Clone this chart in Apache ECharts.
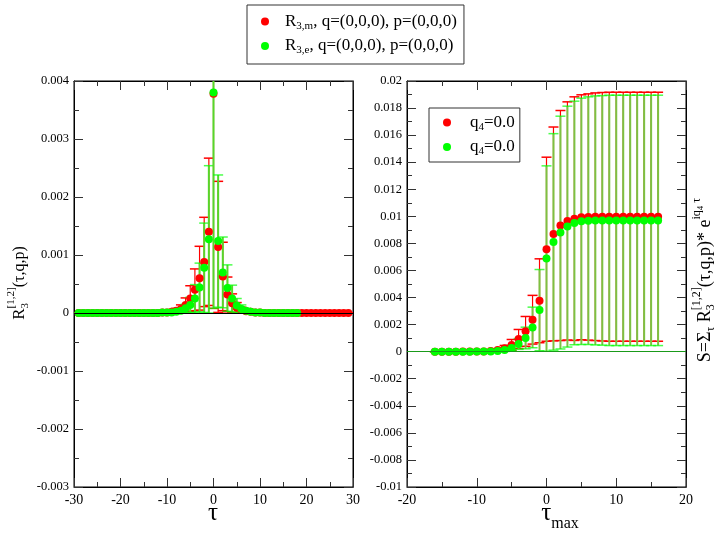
<!DOCTYPE html>
<html>
<head>
<meta charset="UTF-8">
<title>R3 correlator</title>
<script type="text/javascript" src="https://cdn.jsdelivr.net/npm/echarts@6/dist/echarts.min.js"></script>
<style>
  html, body { margin: 0; padding: 0; background: #fff; }
  #main { width: 717px; height: 535px; }
</style>
</head>
<body>
<div id="main"></div>
<script type="text/javascript">
// ---- data: left panel, R3(tau) ----
var tauLeftRed = [-29,-28,-27,-26,-25,-24,-23,-22,-21,-20,-19,-18,-17,-16,-15,-14,-13,-12,
  -11,-10,-9,-8,-7,-6,-5,-4,-3,-2,-1,0,1,2,3,4,5,6,7,8,9,10,
  11,12,13,14,15,16,17,18,19,20,21,22,23,24,25,26,27,28,29];
var redLeftVal = [0,0,0,0,0,0,0,0,0,0,0,0,0,0,0,0,0,0,
  0.00001,0.00001,0.00002,0.00004,0.00007,0.00014,0.00025,0.00040,0.00060,0.00088,0.00140,
  0.00378,0.00114,0.00063,0.00032,0.00017,0.00009,0.00005,0.00003,0.00002,0.00001,0.00001,
  0,0,0,0,0,0,0,0,0,0,0,0,0,0,0,0,0,0,0];
var redLeftErr = [0,0,0,0,0,0,0,0,0,0,0,0,0,0,0,0,0,0,
  0.00001,0.00001,0.00002,0.00004,0.00007,0.00012,0.00022,0.00036,0.00055,0.00077,0.00127,
  0.00370,0.00113,0.00059,0.00030,0.00016,0.00009,0.00005,0.00003,0.00002,0.00001,0.00001,
  0,0,0,0,0,0,0,0,0,0,0,0,0,0,0,0,0,0,0];

var tauLeftGreen = [-29,-28,-27,-26,-25,-24,-23,-22,-21,-20,-19,-18,-17,-16,-15,-14,-13,-12,
  -11,-10,-9,-8,-7,-6,-5,-4,-3,-2,-1,0,1,2,3,4,5,6,7,8,9,10,
  11,12,13,14,15,16,17,18];
var greenLeftVal = [0,0,0,0,0,0,0,0,0,0,0,0,0,0,0,0,0,0,
  0.00001,0.00001,0.00001,0.00002,0.00004,0.00008,0.00014,0.00025,0.00044,0.00078,0.00127,
  0.00380,0.00124,0.00070,0.00043,0.00025,0.00013,0.00007,0.00004,0.00002,0.00001,0.00001,
  0,0,0,0,0,0,0,0];
var greenLeftErr = [0,0,0,0,0,0,0,0,0,0,0,0,0,0,0,0,0,0,
  0.00001,0.00001,0.00001,0.00002,0.00004,0.00007,0.00013,0.00024,0.00042,0.00077,0.00127,
  0.00372,0.00114,0.00061,0.00040,0.00023,0.00012,0.00007,0.00004,0.00002,0.00001,0.00001,
  0,0,0,0,0,0,0,0];

// ---- data: right panel, S(tau_max) ----
var tauRight = [-16,-15,-14,-13,-12,-11,-10,-9,-8,-7,-6,-5,-4,-3,-2,-1,0,
  1,2,3,4,5,6,7,8,9,10,11,12,13,14,15,16];
var redRightVal = [0,0,0,0,0.00001,0.00001,0.00001,0.00002,0.00005,0.00012,0.00026,0.00050,
  0.00094,0.00150,0.00236,0.00376,0.00757,0.00870,0.00932,0.00966,0.00983,0.00993,0.00995,
  0.00997,0.00997,0.00997,0.00997,0.00997,0.00997,0.00997,0.00997,0.00997,0.00997];
var redRightErr = [0,0,0,0,0.00001,0.00001,0.00001,0.00002,0.00004,0.00010,0.00020,0.00040,
  0.00070,0.00110,0.00180,0.00310,0.00680,0.00790,0.00850,0.00880,0.00900,0.00905,0.00910,
  0.00915,0.00918,0.00920,0.00920,0.00920,0.00920,0.00920,0.00920,0.00920,0.00920];
var greenRightVal = [0,0,0,0,0,0,0.00001,0.00001,0.00002,0.00005,0.00012,0.00028,
  0.00057,0.00101,0.00179,0.00307,0.00688,0.00811,0.00880,0.00924,0.00951,0.00963,0.00968,
  0.00970,0.00970,0.00970,0.00970,0.00970,0.00970,0.00970,0.00970,0.00970,0.00970];
var greenRightErr = [0,0,0,0,0,0,0.00001,0.00001,0.00002,0.00005,0.00010,0.00020,
  0.00040,0.00080,0.00150,0.00300,0.00685,0.00800,0.00860,0.00890,0.00900,0.00910,0.00915,
  0.00920,0.00922,0.00925,0.00925,0.00925,0.00925,0.00925,0.00925,0.00925,0.00925];

var FONT = '"Liberation Serif", "DejaVu Serif", serif';
var RED = '#ff0000', GREEN = '#00ff00';

function zip(xs, vs, es) {
  var out = [];
  for (var i = 0; i < xs.length; i++) out.push(es ? [xs[i], vs[i], es[i]] : [xs[i], vs[i]]);
  return out;
}

// error bars: vertical line plus caps
function errBars(lineColor, lineW, capColor, opacity) {
  return function (params, api) {
    var x = api.value(0), v = api.value(1), e = api.value(2);
    var t = api.coord([x, v + e]), b = api.coord([x, v - e]);
    var hw = 5;
    var sl = { stroke: lineColor, lineWidth: lineW };
    var sc = { stroke: capColor, lineWidth: 1.5, opacity: opacity };
    return { type: 'group', children: [
      { type: 'line', shape: { x1: t[0], y1: t[1], x2: b[0], y2: b[1] }, style: sl },
      { type: 'line', shape: { x1: t[0] - hw, y1: t[1], x2: t[0] + hw, y2: t[1] }, style: sc },
      { type: 'line', shape: { x1: b[0] - hw, y1: b[1], x2: b[0] + hw, y2: b[1] }, style: sc }
    ]};
  };
}

function numFmt(v) { return String(parseFloat(v.toFixed(4))); }

function xAx(grid, min, max, bottom) {
  return {
    type: 'value', gridIndex: grid, min: min, max: max, interval: 10,
    position: bottom ? 'bottom' : 'top',
    axisLine: { onZero: false, lineStyle: { color: '#000', width: 1 } },
    axisTick: { inside: true, length: 9, lineStyle: { color: '#333' } },
    minorTick: { show: true, splitNumber: 2, length: 5, lineStyle: { color: '#333' } },
    axisLabel: { show: bottom, color: '#000', fontFamily: FONT, fontSize: 14, margin: 6 },
    splitLine: { show: false }
  };
}
function yAx(grid, min, max, itv, left) {
  return {
    type: 'value', gridIndex: grid, min: min, max: max, interval: itv,
    position: left ? 'left' : 'right',
    axisLine: { onZero: false, lineStyle: { color: '#000', width: 1 } },
    axisTick: { inside: true, length: 9, lineStyle: { color: '#333' } },
    minorTick: { show: true, splitNumber: 2, length: 5, lineStyle: { color: '#333' } },
    axisLabel: { show: left, color: '#000', fontFamily: FONT, fontSize: 12.5, margin: 5, formatter: numFmt },
    splitLine: { show: false }
  };
}

// text with sub/superscripts, built from pieces measured on a canvas
var mctx = document.createElement('canvas').getContext('2d');
function tw(s, size) { mctx.font = size + 'px ' + FONT; return mctx.measureText(s).width; }
function richLabel(pieces, gx, gy, rot) {
  var total = 0, cur = 0, stackW = 0, placed = [];
  pieces.forEach(function (p) {
    var w = tw(p.t, p.s);
    placed.push({ p: p, x: cur });
    if (p.stack) { stackW = Math.max(stackW, w); }
    else { cur += Math.max(w, stackW); stackW = 0; }
  });
  total = cur + stackW;
  var kids = placed.map(function (o) {
    return { type: 'text', x: o.x - total / 2, y: o.p.dy - 0.34 * o.p.s,
      style: { text: o.p.t, fill: '#000', font: o.p.s + 'px ' + FONT, verticalAlign: 'middle', align: 'left' } };
  });
  return { type: 'group', x: gx, y: gy, rotation: rot, children: kids };
}

var chart = echarts.init(document.getElementById('main'), null, { renderer: 'canvas' });

var legRich = {
  p: { width: 11 },
  a: { fontSize: 17, fontFamily: FONT, color: '#000', lineHeight: 20 },
  b: { fontSize: 11, fontFamily: FONT, color: '#000', lineHeight: 7, verticalAlign: 'bottom' }
};

var zeroLine = function (color) {
  return { silent: true, symbol: 'none', label: { show: false },
    lineStyle: { color: color, width: 1, type: 'solid' }, data: [{ yAxis: 0 }] };
};

var option = {
  backgroundColor: '#fff',
  animation: false,
  grid: [
    { left: 74, right: 364, top: 81, bottom: 48, show: true, borderColor: '#000', borderWidth: 1 },
    { left: 407, right: 31, top: 81, bottom: 48, show: true, borderColor: '#000', borderWidth: 1 }
  ],
  xAxis: [xAx(0, -30, 30, true), xAx(0, -30, 30, false), xAx(1, -20, 20, true), xAx(1, -20, 20, false)],
  yAxis: [yAx(0, -0.003, 0.004, 0.001, true), yAx(0, -0.003, 0.004, 0.001, false),
          yAx(1, -0.01, 0.02, 0.002, true), yAx(1, -0.01, 0.02, 0.002, false)],
  legend: [
    {
      orient: 'vertical', left: 247, top: 5, icon: 'circle', itemWidth: 8, itemHeight: 8, itemGap: 6,
      padding: [8, 7, 8, 14], borderColor: '#333', borderWidth: 1,
      data: ['R3m', 'R3e'],
      formatter: function (n) {
        return n === 'R3m' ? '{p|}{a|R}{b|3,m}{a|, q=(0,0,0), p=(0,0,0)}'
                           : '{p|}{a|R}{b|3,e}{a|, q=(0,0,0), p=(0,0,0)}';
      },
      textStyle: { rich: legRich }, selectedMode: false
    },
    {
      orient: 'vertical', left: 429, top: 108, icon: 'circle', itemWidth: 8, itemHeight: 8, itemGap: 6,
      padding: [6, 5, 5, 14], borderColor: '#333', borderWidth: 1,
      data: ['q4m', 'q4e'],
      formatter: function () { return '{p|}{a|q}{b|4}{a|=0.0}'; },
      textStyle: { rich: { p: { width: 14 }, a: legRich.a, b: legRich.b } }, selectedMode: false
    }
  ],
  series: [
    { type: 'custom', name: 'eR3m', xAxisIndex: 0, yAxisIndex: 0, clip: true, z: 2,
      renderItem: errBars(RED, 1.2, RED, 1), data: zip(tauLeftRed, redLeftVal, redLeftErr), encode: { x: 0, y: 1 } },
    { type: 'scatter', name: 'R3m', xAxisIndex: 0, yAxisIndex: 0, symbolSize: 8, z: 2,
      itemStyle: { color: RED, opacity: 1 }, data: zip(tauLeftRed, redLeftVal),
      markLine: zeroLine('#000') },
    { type: 'custom', name: 'eR3e', xAxisIndex: 0, yAxisIndex: 0, clip: true, z: 2,
      renderItem: errBars('#55d82a', 2, GREEN, 0.7), data: zip(tauLeftGreen, greenLeftVal, greenLeftErr), encode: { x: 0, y: 1 } },
    { type: 'scatter', name: 'R3e', xAxisIndex: 0, yAxisIndex: 0, symbolSize: 8, z: 2,
      itemStyle: { color: GREEN, opacity: 1 }, data: zip(tauLeftGreen, greenLeftVal) },

    { type: 'custom', name: 'eq4m', xAxisIndex: 2, yAxisIndex: 2, clip: true, z: 2,
      renderItem: errBars(RED, 1.2, RED, 1), data: zip(tauRight, redRightVal, redRightErr), encode: { x: 0, y: 1 } },
    { type: 'scatter', name: 'q4m', xAxisIndex: 2, yAxisIndex: 2, symbolSize: 8, z: 2,
      itemStyle: { color: RED, opacity: 1 }, data: zip(tauRight, redRightVal),
      markLine: zeroLine('#1a9a1a') },
    { type: 'custom', name: 'eq4e', xAxisIndex: 2, yAxisIndex: 2, clip: true, z: 2,
      renderItem: errBars('#7cc242', 2, GREEN, 0.7), data: zip(tauRight, greenRightVal, greenRightErr), encode: { x: 0, y: 1 } },
    { type: 'scatter', name: 'q4e', xAxisIndex: 2, yAxisIndex: 2, symbolSize: 8, z: 2,
      itemStyle: { color: GREEN, opacity: 1 }, data: zip(tauRight, greenRightVal) }
  ],
  graphic: [
    // x-axis titles
    richLabel([{ t: 'τ', s: 25, dy: 0 }], 213, 522, 0),
    richLabel([{ t: 'τ', s: 25, dy: 0 }, { t: 'max', s: 16, dy: 7 }], 560, 522, 0),
    // left y title
    richLabel([
      { t: 'R', s: 17, dy: 0 }, { t: '3', s: 11, dy: 4, stack: true }, { t: '[1,2]', s: 11, dy: -10 },
      { t: '(τ,q,p)', s: 16, dy: 0 }
    ], 25, 283, Math.PI / 2),
    // right y title
    richLabel([
      { t: 'S=Σ', s: 18, dy: 0 }, { t: 'τ', s: 12, dy: 4 }, { t: ' R', s: 18, dy: 0 },
      { t: '3', s: 12, dy: 4, stack: true }, { t: '[1,2]', s: 12, dy: -10 },
      { t: '(τ,q,p)* e', s: 18, dy: 0 }, { t: 'iq', s: 12, dy: -10 }, { t: '4', s: 9, dy: -7 },
      { t: ' τ', s: 12, dy: -10 }
    ], 711, 280, Math.PI / 2)
  ]
};
chart.setOption(option);
</script>
</body>
</html>
